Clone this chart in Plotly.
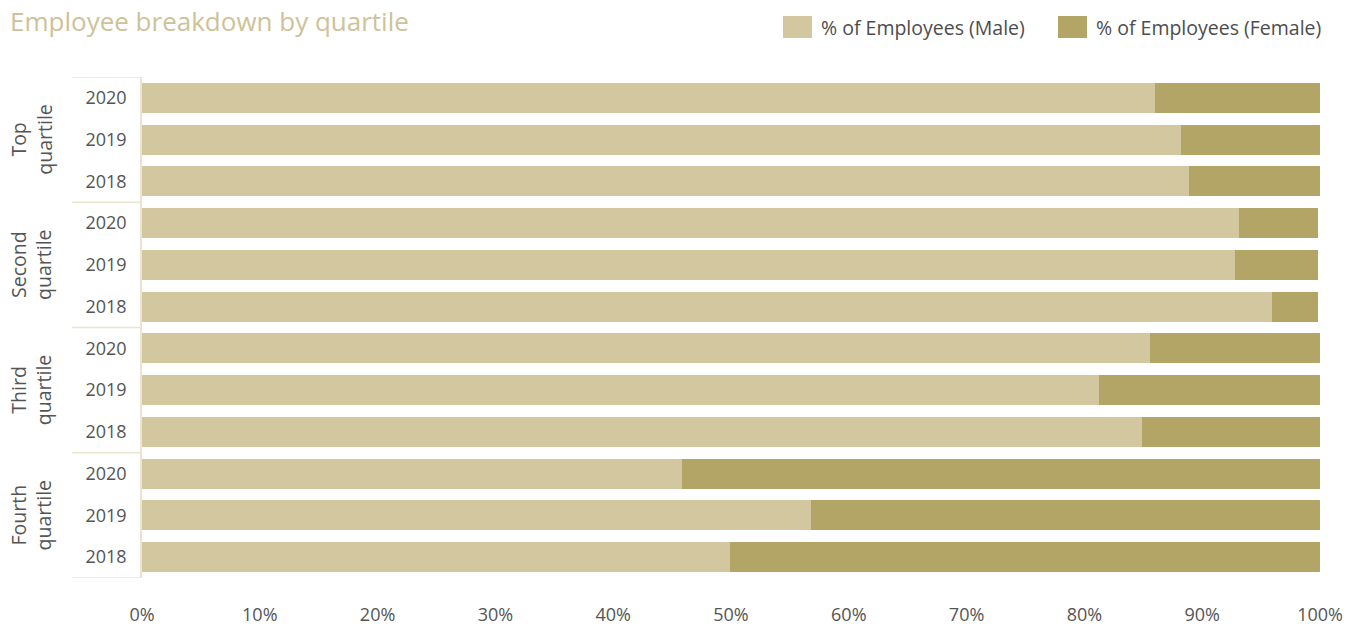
import plotly.graph_objects as go

quartiles = ["Top<br>quartile", "Second<br>quartile", "Third<br>quartile", "Fourth<br>quartile"]
years = ["2020", "2019", "2018"]
male = [86.0, 88.2, 88.9, 93.1, 92.8, 95.9, 85.6, 81.2, 84.9, 45.8, 56.8, 49.9]
female = [14.0, 11.8, 11.1, 6.7, 7.0, 3.9, 14.4, 18.8, 15.1, 54.2, 43.2, 50.1]
x_ticks = [0, 10, 20, 30, 40, 50, 60, 70, 80, 90, 100]
series_names = ["% of Employees (Male)", "% of Employees (Female)"]

rows = list(range(len(male)))
row_labels = [y for q in quartiles for y in years]

MALE_C = "#d3c7a0"
FEMALE_C = "#b3a565"
LINE_C = "#ebe5cf"
TEXT_C = "#555555"
FONT = "Open Sans"

W, H = 1355, 626
L, R, T, B = 142, 35, 77, 48
PW = W - L - R
PH = H - T - B

def px_x(px):
    return (px - L) / PW

def px_y(py):
    return 1 - (py - T) / PH

fig = go.Figure()
fig.add_trace(go.Bar(y=rows, x=male, orientation="h", name=series_names[0], showlegend=False,
                     marker=dict(color=MALE_C, line=dict(width=0)), width=0.72))
fig.add_trace(go.Bar(y=rows, x=female, orientation="h", name=series_names[1], showlegend=False,
                     marker=dict(color=FEMALE_C, line=dict(width=0)), width=0.72))

shapes = []
n_per = len(years)
for g in range(len(quartiles) + 1):
    yb = g * n_per - 0.5
    shapes.append(dict(type="line", xref="paper", yref="y", x0=px_x(72), x1=0, y0=yb, y1=yb,
                       line=dict(color=LINE_C, width=1.5)))

annotations = []
for g, q in enumerate(quartiles):
    annotations.append(dict(text=q, xref="paper", yref="y", x=px_x(31), y=g * n_per + 1,
                            xanchor="center", yanchor="middle", textangle=-90, showarrow=False,
                            font=dict(family=FONT, size=19.5, color=TEXT_C)))

# legend (swatch + label)
leg_sw_x = [783, 1058]
leg_colors = [MALE_C, FEMALE_C]
for sx, col, name in zip(leg_sw_x, leg_colors, series_names):
    shapes.append(dict(type="rect", xref="paper", yref="paper", x0=px_x(sx), x1=px_x(sx + 29),
                       y0=px_y(38), y1=px_y(16), fillcolor=col, line=dict(width=0)))
    annotations.append(dict(text=name, xref="paper", yref="paper", x=px_x(sx + 36), y=px_y(27),
                            xanchor="left", yanchor="middle", showarrow=False,
                            font=dict(family=FONT, size=19.5, color="#4d4d4d")))

fig.update_layout(
    barmode="stack",
    width=W, height=H,
    margin=dict(l=L, r=R, t=T, b=B, autoexpand=False),
    paper_bgcolor="white", plot_bgcolor="white",
    font=dict(family=FONT, color=TEXT_C),
    title=dict(text="Employee breakdown by quartile", x=10 / W, xanchor="left",
               y=1 - 22 / H, yanchor="middle",
               font=dict(family=FONT, size=26, color="#cdc298")),
    showlegend=False,
    shapes=shapes,
    annotations=annotations,
    bargap=0,
)
fig.update_xaxes(range=[0, 100], tickvals=x_ticks, ticktext=[f"{v}%" for v in x_ticks],
                 showgrid=False, zeroline=False, showline=False, ticks="", automargin=False,
                 ticklabelstandoff=24, tickfont=dict(family=FONT, size=18, color=TEXT_C))
fig.update_yaxes(range=[len(male) - 0.5, -0.5], tickvals=rows, ticktext=row_labels,
                 showgrid=False, zeroline=False, showline=True, linecolor=LINE_C, linewidth=1.5,
                 ticks="", automargin=False, ticklabelstandoff=10,
                 tickfont=dict(family=FONT, size=18, color=TEXT_C))

fig.write_html("out.html")
